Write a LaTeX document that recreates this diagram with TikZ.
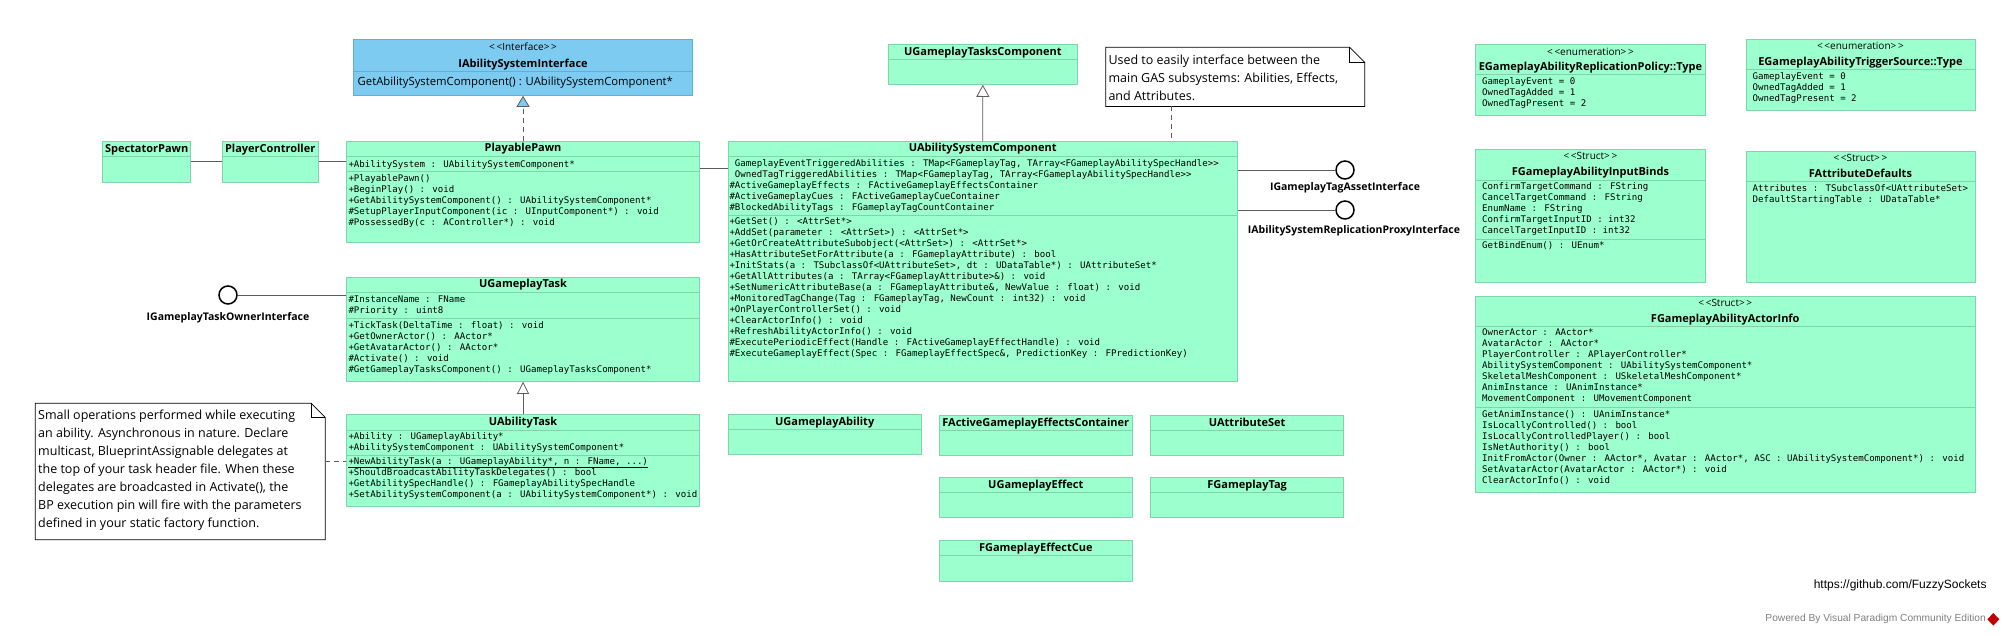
\documentclass[tikz,border=0pt]{standalone}
\usepackage{fontspec}
\setmainfont{Open Sans}
\newfontfamily\memfont{DejaVu Sans Mono}
\newfontfamily\webfont{Liberation Sans}
\usetikzlibrary{arrows.meta,positioning}

\definecolor{clsfill}{HTML}{9CFFCE}
\definecolor{clsline}{HTML}{80D4AA}
\definecolor{ifcfill}{HTML}{7DCBF0}
\definecolor{ifcline}{HTML}{5FB0D8}
\definecolor{linkgray}{HTML}{5C5C5C}

\tikzset{
  cls/.style={draw=clsline, fill=clsfill, line width=0.8pt, anchor=north west, inner sep=0pt},
  ifc/.style={cls, draw=ifcline, fill=ifcfill},
  clsname/.style={font=\fontsize{11}{13}\selectfont\bfseries, inner sep=0pt, text height=8pt, text depth=2.4pt},
  stereo/.style={font=\fontsize{10}{12}\selectfont, inner sep=0pt, text height=7.5pt, text depth=2.4pt},
  mem/.style={font=\memfont\fontsize{9.1}{11}\selectfont, anchor=west, inner sep=0pt, text height=6.8pt, text depth=2pt},
  sepline/.style={draw=clsline, line width=0.8pt},
  link/.style={draw=linkgray, line width=0.8pt},
  dashlink/.style={link, dash pattern=on 5pt off 4pt},
  notearea/.style={anchor=north west, inner sep=0pt},
  notetext/.style={font=\fontsize{12.5}{18}\selectfont, align=left, anchor=north west, inner sep=0pt},
  lolli/.style={circle, draw=black, line width=1.5pt, fill=white, minimum size=18pt, inner sep=0pt},
  lolliname/.style={font=\fontsize{10.5}{12}\selectfont\bfseries, inner sep=0pt},
}

% class box and its parts
\newcommand{\umlbox}[6][cls]{\node[#1, minimum width=#5pt, minimum height=#6pt] (#2) at (#3,#4) {};}
\newcommand{\umlsep}[3][clsline]{\draw[sepline, draw=#1] (#2.west |- 0,#3) -- (#2.east |- 0,#3);}
\newcommand{\umlname}[3]{\node[clsname] (#1-n) at (#1.north |- 0,#2) {#3};}
\newcommand{\stname}[1]{\hbox{<}\,\hbox{<}#1\hbox{>}\,\hbox{>}}
\newcommand{\members}[4]{\foreach \m [count=\k from 0] in {#4} {\node[mem] (#1-\k) at (#2,#3+11*\k) {\m};}}
\newcommand{\emptycls}[6]{\umlbox{#1}{#2}{#3}{#4}{#5}\umlname{#1}{#3+8.4}{#6}\umlsep{#1}{#3+15.5}}
% note outline with folded corner
\newcommand{\notefold}[2]{%
  \draw[line width=0.8pt, fill=white] (#1.north west) -- ([xshift=-#2pt]#1.north east) -- ([yshift=-#2pt]#1.north east) -- (#1.south east) -- (#1.south west) -- cycle;
  \draw[line width=0.8pt] ([xshift=-#2pt]#1.north east) |- ([yshift=-#2pt]#1.north east);}

\begin{document}
\begin{tikzpicture}[x=1pt, y=-1pt]
\fill[white] (0,0) rectangle (2010,635);
\useasboundingbox (0,0) rectangle (2010,635);

% interface
\umlbox[ifc]{iasi}{353.3}{39.3}{338.7}{55.7}
\node[stereo] (iasi-s) at (iasi.north |- 0,48) {\stname{Interface}};
\umlname{iasi}{64.3}{IAbilitySystemInterface}
\umlsep[ifcline]{iasi}{71.7}
\node[anchor=west, inner sep=0pt, font=\fontsize{11.3}{13}\selectfont] (iasi-0) at (357.5,82.3) {GetAbilitySystemComponent() : UAbilitySystemComponent*};

% pawn chain
\emptycls{spec}{102.2}{141}{88.2}{40.7}{SpectatorPawn}
\emptycls{ctrl}{221.8}{141}{96}{40.7}{PlayerController}
\umlbox{pawn}{346}{141}{353.3}{100.7}
\umlname{pawn}{149}{PlayablePawn}
\umlsep{pawn}{156.7}
\umlsep{pawn}{171.7}
\members{pawn-a}{348.3}{164.7}{+AbilitySystem : UAbilitySystemComponent*}
\members{pawn-o}{348.3}{179}{+PlayablePawn(),+BeginPlay() : void,+GetAbilitySystemComponent() : UAbilitySystemComponent*,\#SetupPlayerInputComponent(ic : UInputComponent*) : void,\#PossessedBy(c : AController*) : void}

\draw[link] (spec.east) -- (ctrl.west);
\draw[link] (ctrl.east) -- (ctrl.east -| pawn.west);
\draw[dashlink, -{Triangle[length=11pt, width=13pt, fill=ifcfill]}] (pawn.north) -- (iasi.south);

% tasks
\umlbox{gtask}{346}{277.3}{353.3}{103.7}
\umlname{gtask}{285}{UGameplayTask}
\umlsep{gtask}{292.7}
\umlsep{gtask}{318.3}
\members{gtask-a}{348.3}{300}{\#InstanceName : FName,\#Priority : uint8}
\members{gtask-o}{348.3}{325.7}{+TickTask(DeltaTime : float) : void,+GetOwnerActor() : AActor*,+GetAvatarActor() : AActor*,\#Activate() : void,\#GetGameplayTasksComponent() : UGameplayTasksComponent*}

\umlbox{abtask}{346}{414.3}{353.3}{91.7}
\umlname{abtask}{422.3}{UAbilityTask}
\umlsep{abtask}{430}
\umlsep{abtask}{455}
\members{abtask-a}{348.3}{436.7}{+Ability : UGameplayAbility*,+AbilitySystemComponent : UAbilitySystemComponent*}
\members{abtask-o}{348.3}{462.3}{{+NewAbilityTask(a : UGameplayAbility*, n : FName, .{}..)},+ShouldBroadcastAbilityTaskDelegates() : bool,+GetAbilitySpecHandle() : FGameplayAbilitySpecHandle,+SetAbilitySystemComponent(a : UAbilitySystemComponent*) : void}
\draw[line width=0.7pt] ([yshift=-0.8pt]abtask-o-0.south west) -- ([yshift=-0.8pt]abtask-o-0.south east); % static
\draw[link, -{Triangle[length=12pt, width=12pt, fill=white]}] (abtask.north) -- (gtask.south);

\node[lolli] (ownerif) at (228,295) {};
\node[lolliname, below=8pt of ownerif] (ownerif-n) {IGameplayTaskOwnerInterface};
\draw[link] (ownerif.east) -- (ownerif -| gtask.west);

% note on ability tasks
\node[notearea, minimum width=289.5pt, minimum height=136pt] (notel) at (35.3,403.3) {};
\notefold{notel}{14}
\node[notetext] (notel-t) at (38,410.2) {Small operations performed while executing\\an ability. Asynchronous in nature. Declare\\multicast, BlueprintAssignable delegates at\\the top of your task header file. When these\\delegates are broadcasted in Activate(), the\\BP execution pin will fire with the parameters\\defined in your static factory function.};
\coordinate (nl) at ([yshift=-57.7pt]notel.north east);
\draw[dashlink] (nl) -- (nl -| abtask.west);

% ability system component
\emptycls{gtc}{887.9}{44}{189.1}{40}{UGameplayTasksComponent}
\umlbox{asc}{727.9}{141}{508.9}{239.7}
\umlname{asc}{149}{UAbilitySystemComponent}
\umlsep{asc}{156.7}
\umlsep{asc}{215}
\members{asc-a}{729.3}{164.3}{{\phantom{\#}GameplayEventTriggeredAbilities : TMap<FGameplayTag, TArray<FGameplayAbilitySpecHandle>>},{\phantom{\#}OwnedTagTriggeredAbilities : TMap<FGameplayTag, TArray<FGameplayAbilitySpecHandle>>},\#ActiveGameplayEffects : FActiveGameplayEffectsContainer,\#ActiveGameplayCues : FActiveGameplayCueContainer,\#BlockedAbilityTags : FGameplayTagCountContainer}
\members{asc-o}{729.3}{222.3}{+GetSet() : <AttrSet*>,+AddSet(parameter : <AttrSet>) : <AttrSet*>,+GetOrCreateAttributeSubobject(<AttrSet>) : <AttrSet*>,+HasAttributeSetForAttribute(a : FGameplayAttribute) : bool,{+InitStats(a : TSubclassOf<UAttributeSet>, dt : UDataTable*) : UAttributeSet*},+GetAllAttributes(a : TArray<FGameplayAttribute>\&) : void,{+SetNumericAttributeBase(a : FGameplayAttribute\&, NewValue : float) : void},{+MonitoredTagChange(Tag : FGameplayTag, NewCount : int32) : void},+OnPlayerControllerSet() : void,+ClearActorInfo() : void,+RefreshAbilityActorInfo() : void,\#ExecutePeriodicEffect(Handle : FActiveGameplayEffectHandle) : void,{\#ExecuteGameplayEffect(Spec : FGameplayEffectSpec\&, PredictionKey : FPredictionKey)}}
\draw[link, -{Triangle[length=12pt, width=13pt, fill=white]}] (asc.north) -- (gtc.south);
\coordinate (pa) at ([yshift=-27pt]pawn.north east);
\draw[link] (pa) -- (pa -| asc.west);

\node[notearea, minimum width=258.6pt, minimum height=58.7pt] (notetop) at (1105.7,47.3) {};
\notefold{notetop}{15}
\node[notetext] (notetop-t) at (1108.3,54.7) {Used to easily interface between the\\main GAS subsystems: Abilities, Effects,\\and Attributes.};
\coordinate (nt) at ([xshift=66pt]notetop.south west);
\draw[dashlink] (nt) -- (nt |- asc.north);

\node[lolli] (tagif) at (1345,170) {};
\node[lolliname, below=3pt of tagif] (tagif-n) {IGameplayTagAssetInterface};
\draw[link] (tagif -| asc.east) -- (tagif.west);
\node[lolli] (rpif) at (1345,210) {};
\node[lolliname, below=6pt of rpif, xshift=9pt] (rpif-n) {IAbilitySystemReplicationProxyInterface};
\draw[link] (rpif -| asc.east) -- (rpif.west);

% plain classes
\emptycls{gab}{727.9}{414}{192.8}{40.3}{UGameplayAbility}
\emptycls{agec}{938.9}{415}{192.9}{40}{FActiveGameplayEffectsContainer}
\emptycls{attrset}{1150.3}{415}{192.9}{40}{UAttributeSet}
\emptycls{geff}{938.9}{477.3}{192.9}{40}{UGameplayEffect}
\emptycls{gtag}{1150.3}{477.3}{192.9}{40}{FGameplayTag}
\emptycls{gcue}{938.9}{540}{192.9}{40.7}{FGameplayEffectCue}

% enumerations and structs
\umlbox{replpol}{1475.2}{44}{229.7}{71}
\node[stereo] (replpol-s) at (replpol.north |- 0,52.7) {\stname{enumeration}};
\umlname{replpol}{67.3}{EGameplayAbilityReplicationPolicy::Type}
\umlsep{replpol}{74.3}
\members{replpol-a}{1482}{81.7}{GameplayEvent = 0,OwnedTagAdded = 1,OwnedTagPresent = 2}

\umlbox{trigsrc}{1745.5}{39.3}{229}{70.7}
\node[stereo] (trigsrc-s) at (trigsrc.north |- 0,46.7) {\stname{enumeration}};
\umlname{trigsrc}{62.3}{EGameplayAbilityTriggerSource::Type}
\umlsep{trigsrc}{69.3}
\members{trigsrc-a}{1752.4}{76.7}{GameplayEvent = 0,OwnedTagAdded = 1,OwnedTagPresent = 2}

\umlbox{binds}{1475.2}{149}{229.7}{133}
\node[stereo] (binds-s) at (binds.north |- 0,157.3) {\stname{Struct}};
\umlname{binds}{172.7}{FGameplayAbilityInputBinds}
\umlsep{binds}{180}
\umlsep{binds}{239}
\members{binds-a}{1482}{186.7}{ConfirmTargetCommand : FString,CancelTargetCommand : FString,EnumName : FString,ConfirmTargetInputID : int32,CancelTargetInputID : int32}
\members{binds-o}{1482}{246}{GetBindEnum() : UEnum*}

\umlbox{attrdef}{1745.5}{151}{229}{131}
\node[stereo] (attrdef-s) at (attrdef.north |- 0,159) {\stname{Struct}};
\umlname{attrdef}{174.3}{FAttributeDefaults}
\umlsep{attrdef}{181.7}
\members{attrdef-a}{1752.4}{189}{Attributes : TSubclassOf<UAttributeSet>,DefaultStartingTable : UDataTable*}

\umlbox{actinfo}{1475.2}{296}{499.3}{195.7}
\node[stereo] (actinfo-s) at (actinfo.north |- 0,304.3) {\stname{Struct}};
\umlname{actinfo}{319.3}{FGameplayAbilityActorInfo}
\umlsep{actinfo}{326}
\umlsep{actinfo}{407.3}
\members{actinfo-a}{1482}{333.3}{OwnerActor : AActor*,AvatarActor : AActor*,PlayerController : APlayerController*,AbilitySystemComponent : UAbilitySystemComponent*,SkeletalMeshComponent : USkeletalMeshComponent*,AnimInstance : UAnimInstance*,MovementComponent : UMovementComponent}
\members{actinfo-o}{1482}{415}{GetAnimInstance() : UAnimInstance*,IsLocallyControlled() : bool,IsLocallyControlledPlayer() : bool,IsNetAuthority() : bool,{InitFromActor(Owner : AActor*, Avatar : AActor*, ASC : UAbilitySystemComponent*) : void},SetAvatarActor(AvatarActor : AActor*) : void,ClearActorInfo() : void}

% footer
\node[anchor=east, inner sep=0pt, font=\webfont\fontsize{12}{14}\selectfont] (url) at (1986.7,585) {https://github.com/FuzzySockets};
\node[anchor=east, inner sep=0pt, text=gray, font=\webfont\fontsize{10.2}{12}\selectfont] (powered) at (1986,619.3) {Powered By Visual Paradigm Community Edition};
\fill[red!75!black] (1993.3,613) -- (1999.3,619.3) -- (1993.3,625.6) -- (1987.3,619.3) -- cycle;
\end{tikzpicture}
\end{document}
